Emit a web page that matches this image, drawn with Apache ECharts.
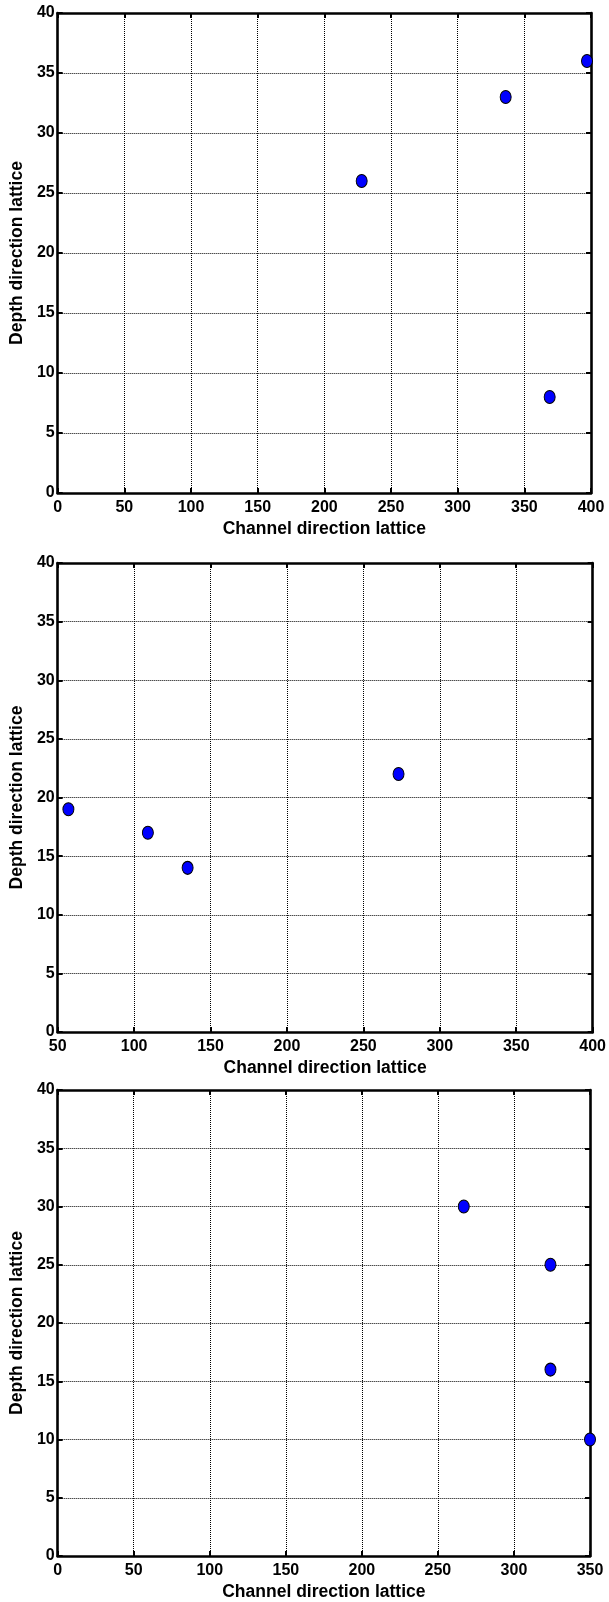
<!DOCTYPE html>
<html>
<head>
<meta charset="utf-8">
<script src="https://cdn.jsdelivr.net/npm/echarts@6/dist/echarts.min.js"></script>
<style>
  html, body { margin: 0; padding: 0; background: #fff; }
  #chart { width: 609px; height: 1602px; }
</style>
</head>
<body>
<div id="chart"></div>
<script>
// Lattice positions for the three panels
const panel1X = [228, 336, 397, 369];
const panel1Y = [26, 33, 36, 8];
const panel2X = [57, 109, 135, 273];
const panel2Y = [19, 17, 14, 22];
const panel3X = [267, 324, 324, 350];
const panel3Y = [30, 25, 16, 10];

// Axis ranges per panel
const xRanges = [[0, 400], [50, 400], [0, 350]];
const yRange = [0, 40];
const xStep = 50;
const yStep = 5;

const xName = 'Channel direction lattice';
const yName = 'Depth direction lattice';

const FONT = '"Liberation Sans", Arial, sans-serif';

const grids = [
  { left: 54, right: 18, top: 13, height: 480 },
  { left: 52, right: 16, top: 563, height: 469 },
  { left: 52, right: 19, top: 1090, height: 467 }
];

const axisLine = { show: true, onZero: false, lineStyle: { color: '#000', width: 2.6 } };
const tick = { show: true, inside: true, length: 5, lineStyle: { color: '#000', width: 2 } };
const grid = { show: true, lineStyle: { color: '#000', width: 1, type: [1, 1] } };
const tickFont = { color: '#000', fontFamily: FONT, fontWeight: 'bold', fontSize: 16 };
const nameFont = { color: '#000', fontFamily: FONT, fontWeight: 'bold', fontSize: 17.5 };

const xAxes = [];
const yAxes = [];
const series = [];
const data = [[panel1X, panel1Y], [panel2X, panel2Y], [panel3X, panel3Y]];

grids.forEach((g, i) => {
  const [xmin, xmax] = xRanges[i];
  // bottom axis with labels and vertical grid lines
  xAxes.push({
    type: 'value', gridIndex: i, position: 'bottom',
    min: xmin, max: xmax, interval: xStep,
    axisLine, axisTick: tick, splitLine: grid,
    axisLabel: Object.assign({ margin: 7, showMinLabel: true, showMaxLabel: true }, tickFont),
    name: xName, nameLocation: 'middle', nameGap: 27, nameTextStyle: nameFont
  });
  // top box edge with inward ticks
  xAxes.push({
    type: 'value', gridIndex: i, position: 'top',
    min: xmin, max: xmax, interval: xStep,
    axisLine, axisTick: tick, splitLine: { show: false }, axisLabel: { show: false }
  });
  // left axis with labels and horizontal grid lines
  yAxes.push({
    type: 'value', gridIndex: i, position: 'left',
    min: yRange[0], max: yRange[1], interval: yStep,
    axisLine, axisTick: tick, splitLine: grid,
    axisLabel: Object.assign({ margin: 3 }, tickFont),
    name: yName, nameLocation: 'middle', nameGap: 23, nameTextStyle: nameFont
  });
  // right box edge with inward ticks
  yAxes.push({
    type: 'value', gridIndex: i, position: 'right',
    min: yRange[0], max: yRange[1], interval: yStep,
    axisLine, axisTick: tick, splitLine: { show: false }, axisLabel: { show: false }
  });

  const [xs, ys] = data[i];
  series.push({
    type: 'scatter',
    xAxisIndex: i * 2, yAxisIndex: i * 2,
    symbol: 'circle', symbolSize: [11, 13],
    itemStyle: { color: '#0000ff', borderColor: '#000', borderWidth: 1, opacity: 1 },
    data: xs.map((x, k) => [x, ys[k]]),
    clip: false, z: 5
  });
});

const chart = echarts.init(document.getElementById('chart'), null, { renderer: 'canvas' });
chart.setOption({
  animation: false,
  backgroundColor: '#fff',
  textStyle: { fontFamily: FONT },
  grid: grids.map(g => Object.assign({ containLabel: false }, g)),
  xAxis: xAxes,
  yAxis: yAxes,
  series
});
</script>
</body>
</html>
